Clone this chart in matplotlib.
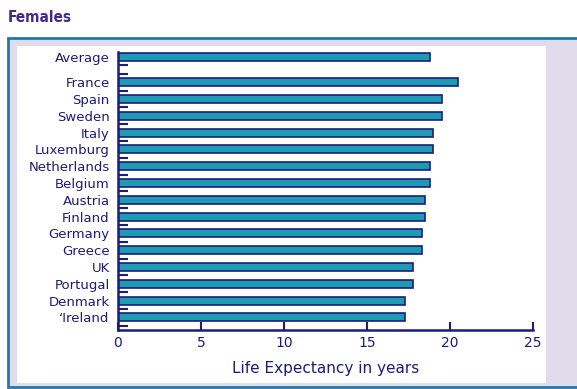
import matplotlib.pyplot as plt
from matplotlib.patches import Rectangle

# life expectancy for females, EU countries plus the overall average
countries = ['Average', 'France', 'Spain', 'Sweden', 'Italy', 'Luxemburg',
             'Netherlands', 'Belgium', 'Austria', 'Finland', 'Germany',
             'Greece', 'UK', 'Portugal', 'Denmark', '\u2018Ireland']
years = [18.8, 20.5, 19.5, 19.5, 19.0, 19.0, 18.8, 18.8, 18.5, 18.5,
         18.3, 18.3, 17.8, 17.8, 17.3, 17.3]
x_ticks = [0, 5, 10, 15, 20, 25]

navy = '#1c1c7a'
teal = '#1e9ab2'

# Average sits a little apart from the countries
pos = [15.5] + list(range(14, -1, -1))

fig = plt.figure(figsize=(5.77, 3.89), dpi=100)
fig.patch.set_facecolor('white')

# lavender frame with blue border, white panel inside
fig.patches.append(Rectangle((8 / 577, 2 / 389), 1.0, 349 / 389,
                             transform=fig.transFigure, facecolor='#e0dcec',
                             edgecolor='#1f78b0', linewidth=2, zorder=-3))
fig.patches.append(Rectangle((17 / 577, 6 / 389), 529 / 577, 337 / 389,
                             transform=fig.transFigure, facecolor='white',
                             edgecolor='none', zorder=-2))

fig.text(8 / 577, 1 - 18 / 389, 'Females', color='#3d2a8a', fontsize=11,
         fontweight='bold', va='center', ha='left', fontstretch='condensed')

ax = fig.add_axes([118 / 577, 59 / 389, 415 / 577, 278 / 389])
ax.set_zorder(2)
ax.set_facecolor('none')
ax.barh(pos, years, height=0.48, color=teal, edgecolor=navy, linewidth=1.2)

ax.set_xlim(0, 25)
ax.set_ylim(-0.75, 15.8)
ax.set_xticks(x_ticks)
ax.set_xticklabels([str(t) for t in x_ticks])
ax.set_yticks(pos)
ax.set_yticklabels(countries)
ax.set_yticks([p - 0.5 for p in range(0, 15)] + [14.5, 15.0], minor=True)

ax.tick_params(axis='y', which='major', length=0, pad=6, labelsize=9.5,
               labelcolor=navy)
ax.tick_params(axis='y', which='minor', direction='in', length=7, width=1.5,
               color=navy)
ax.tick_params(axis='x', direction='in', length=6, width=1.5, color=navy,
               labelsize=10, labelcolor=navy, pad=4)

for side in ['top', 'right']:
    ax.spines[side].set_visible(False)
for side in ['left', 'bottom']:
    ax.spines[side].set_color(navy)
    ax.spines[side].set_linewidth(1.8)

ax.set_xlabel('Life Expectancy in years', color=navy, fontsize=11,
              labelpad=8)

fig.savefig('out.png', dpi=100)
